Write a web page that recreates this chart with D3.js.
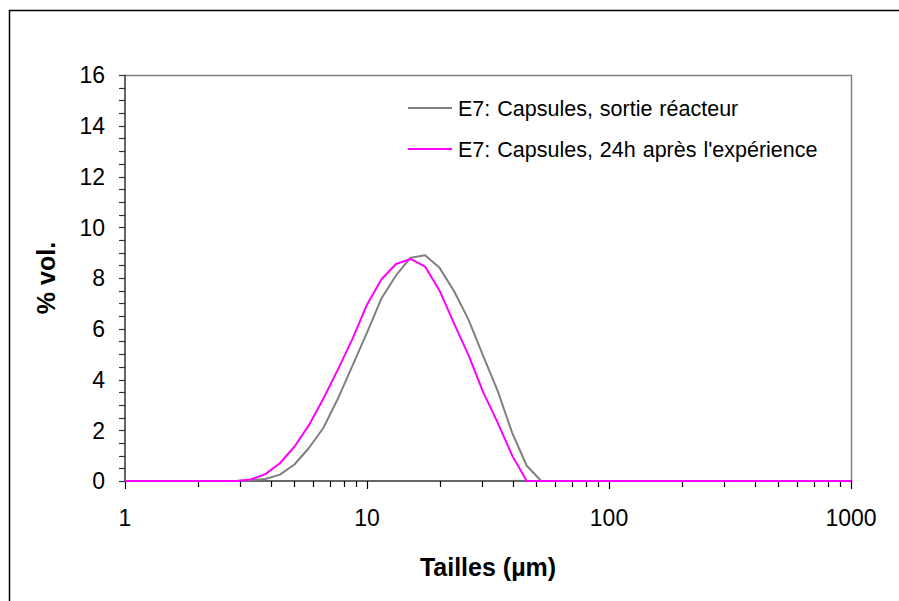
<!DOCTYPE html>
<html>
<head>
<meta charset="utf-8">
<script src="https://cdn.jsdelivr.net/npm/d3@7"></script>
<style>
  html, body { margin: 0; padding: 0; background: #fff; }
  svg { display: block; font-family: "Liberation Sans", Arial, sans-serif; }
</style>
</head>
<body>
<svg id="chart" width="899" height="601"></svg>
<script>
// Particle size classes (µm) of the laser diffraction analysis
const sizes = [1, 2.884, 3.311, 3.802, 4.365, 5.012, 5.754, 6.607, 7.586, 8.710, 10.0,
  11.48, 13.18, 15.14, 17.38, 19.95, 22.91, 26.30, 30.20, 34.67, 39.81, 45.71, 52.48, 1000];

// % volume per size class
const sortieReacteur = [0, 0, 0.03, 0.08, 0.25, 0.65, 1.3, 2.1, 3.25, 4.55, 5.85,
  7.2, 8.1, 8.8, 8.9, 8.4, 7.48, 6.35, 4.93, 3.55, 1.9, 0.6, 0, 0];
const apres24h = [0, 0, 0.06, 0.27, 0.7, 1.35, 2.2, 3.25, 4.4, 5.6, 6.95,
  7.95, 8.55, 8.75, 8.45, 7.5, 6.2, 4.95, 3.5, 2.3, 1.0, 0, 0, 0];

const seriesNames = ["E7: Capsules, sortie réacteur", "E7: Capsules, 24h après l'expérience"];
const seriesColors = ["#808080", "#ff00ff"];

const yTicks = [0, 2, 4, 6, 8, 10, 12, 14, 16];
const xTicks = [1, 10, 100, 1000];

const svg = d3.select("#chart");
const W = 899, H = 601;
const plot = { left: 125, top: 75, right: 851, bottom: 481 };

// outer chart frame
svg.append("rect")
  .attr("x", 9.5).attr("y", 10.5)
  .attr("width", W).attr("height", H)
  .attr("fill", "none").attr("stroke", "#000").attr("stroke-width", 1.5);

const x = d3.scaleLog().domain([1, 1000]).range([plot.left, plot.right]);
const y = d3.scaleLinear().domain([0, 16]).range([plot.bottom, plot.top]);

// plot area border (top and right)
svg.append("path")
  .attr("d", `M${plot.left},${plot.top + 0.5}H${plot.right + 0.5}V${plot.bottom}`)
  .attr("fill", "none").attr("stroke", "#808080").attr("stroke-width", 1.5);

// y axis: major ticks every 2, minor every 0.5
const yMinor = d3.range(0, 16.01, 0.5);
const gy = svg.append("g").attr("transform", `translate(${plot.left},0)`);
gy.selectAll("line.minor").data(yMinor).join("line")
  .attr("x1", -6).attr("x2", 0)
  .attr("y1", d => Math.round(y(d)) + 0.5).attr("y2", d => Math.round(y(d)) + 0.5)
  .attr("stroke", "#333").attr("stroke-width", 1.2);
gy.append("line").attr("x1", 0).attr("x2", 0)
  .attr("y1", plot.top).attr("y2", plot.bottom + 1)
  .attr("stroke", "#333").attr("stroke-width", 1.5);
gy.selectAll("text").data(yTicks).join("text")
  .attr("x", -20).attr("y", d => y(d))
  .attr("dy", "0.36em")
  .attr("text-anchor", "end")
  .attr("font-size", 23)
  .attr("fill", "#000")
  .text(d => d);

// x axis: log ticks at every integer multiple
const xAllTicks = x.ticks();
const gx = svg.append("g").attr("transform", `translate(0,${plot.bottom})`);
gx.append("line").attr("x1", plot.left).attr("x2", plot.right + 1)
  .attr("y1", 0).attr("y2", 0)
  .attr("stroke", "#333").attr("stroke-width", 1.5);
gx.selectAll("line.tick").data(xAllTicks).join("line")
  .attr("x1", d => Math.round(x(d)) + 0.5).attr("x2", d => Math.round(x(d)) + 0.5)
  .attr("y1", 0).attr("y2", d => xTicks.includes(d) ? 8 : 6)
  .attr("stroke", "#000").attr("stroke-width", 1.2);
gx.selectAll("text").data(xTicks).join("text")
  .attr("x", d => x(d)).attr("y", 45)
  .attr("text-anchor", "middle")
  .attr("font-size", 23)
  .attr("fill", "#000")
  .text(d => d);

// axis titles
svg.append("text")
  .attr("x", (plot.left + plot.right) / 2).attr("y", 576)
  .attr("text-anchor", "middle")
  .attr("font-size", 25).attr("font-weight", "bold")
  .text("Tailles (µm)");
svg.append("text")
  .attr("transform", `translate(55,${(plot.top + plot.bottom) / 2}) rotate(-90)`)
  .attr("text-anchor", "middle")
  .attr("font-size", 25).attr("font-weight", "bold")
  .text("% vol.");

// curves
svg.append("clipPath").attr("id", "clip").append("rect")
  .attr("x", plot.left).attr("y", plot.top - 2)
  .attr("width", plot.right - plot.left + 1).attr("height", plot.bottom - plot.top + 4);

const line = d3.line().x(d => x(d[0])).y(d => y(d[1]));
const seriesData = [sortieReacteur, apres24h];
const gLines = svg.append("g").attr("clip-path", "url(#clip)");
seriesData.forEach((vals, i) => {
  gLines.append("path")
    .datum(sizes.map((s, k) => [s, vals[k]]))
    .attr("d", line)
    .attr("fill", "none")
    .attr("stroke", seriesColors[i])
    .attr("stroke-width", 2)
    .attr("stroke-linejoin", "round");
});

// legend
const legend = svg.append("g");
const legendY = [108, 149];
seriesNames.forEach((name, i) => {
  legend.append("line")
    .attr("x1", 408).attr("x2", 452)
    .attr("y1", legendY[i]).attr("y2", legendY[i])
    .attr("stroke", seriesColors[i]).attr("stroke-width", 2);
  legend.append("text")
    .attr("x", 458).attr("y", legendY[i])
    .attr("dy", "0.36em")
    .attr("font-size", 21.5)
    .attr("word-spacing", 1)
    .attr("fill", "#000")
    .text(name);
});
</script>
</body>
</html>
